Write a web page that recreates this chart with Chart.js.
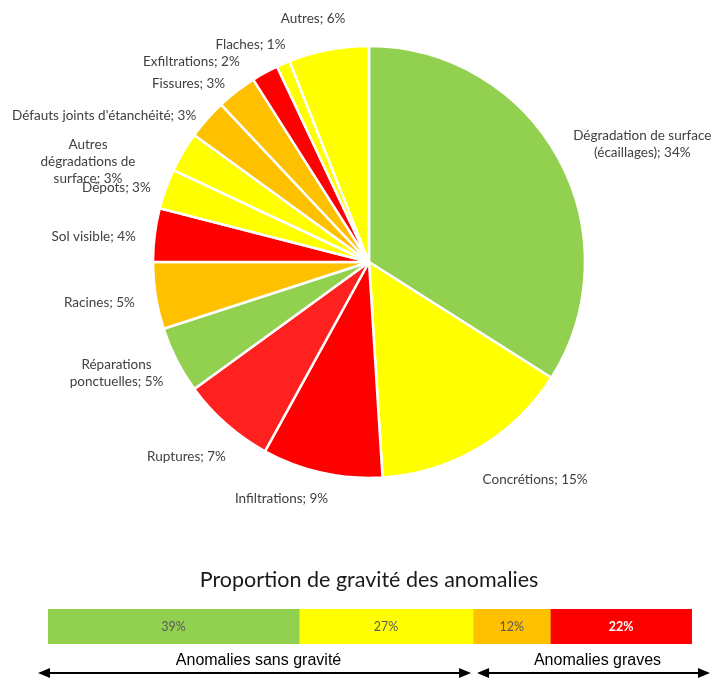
<!DOCTYPE html>
<html lang="fr">
<head>
    <meta charset="UTF-8">
    <title>Anomalies</title>
    <script src="https://cdn.jsdelivr.net/npm/chart.js"></script>
    <style>
        body { margin: 0; background: #fff; }
        canvas { display: block; }
    </style>
</head>
<body>
    <canvas id="pieChart" width="715" height="540"></canvas>
    <canvas id="barChart" width="715" height="138"></canvas>
    <script>
        // pie data, clockwise from the top
        const anomalies = [
            'Dégradation de surface\n(écaillages)', 'Concrétions', 'Infiltrations', 'Ruptures',
            'Réparations\nponctuelles', 'Racines', 'Sol visible', 'Dépots',
            'Autres\ndégradations de\nsurface', "Défauts joints d'étanchéité", 'Fissures',
            'Exfiltrations', 'Flaches', 'Autres'
        ];
        const parts = [34, 15, 9, 7, 5, 5, 4, 3, 3, 3, 3, 2, 1, 6];

        const GREEN = '#92D050', YELLOW = '#FFFF00', ORANGE = '#FFC000', RED = '#FF0000';
        const sliceColors = [GREEN, YELLOW, RED, '#FF2020', GREEN, ORANGE, RED, YELLOW,
                             YELLOW, ORANGE, ORANGE, RED, YELLOW, YELLOW];
        // small label shifts (px) to follow the original placement
        const labelNudge = [[0, 3], [-5, 10], [10, 1], [11, 13], [2, -2], [-4, 3], [-2, 5],
                            [1, 7], [-33, 31], [2, 13], [-1, 12], [-17, 11], [9, 4], [20, -6]];

        // gravity bar
        const gravityValues = [39, 27, 12, 22];
        const gravityColors = [GREEN, YELLOW, ORANGE, RED];
        const gravityTextColors = ['#595959', '#595959', '#595959', '#ffffff'];
        const groupLabels = ['Anomalies sans gravité', 'Anomalies graves'];
        const groupSplit = 2; // first two segments are "sans gravité"

        const sliceLabels = {
            id: 'sliceLabels',
            afterDatasetsDraw(chart) {
                const ctx = chart.ctx;
                const meta = chart.getDatasetMeta(0);
                ctx.save();
                ctx.font = '13.5px Lato';
                ctx.fillStyle = '#404040';
                ctx.textBaseline = 'middle';
                ctx.textAlign = 'center';
                meta.data.forEach((arc, i) => {
                    const p = arc.getProps(['x', 'y', 'startAngle', 'endAngle', 'outerRadius']);
                    const a = (p.startAngle + p.endAngle) / 2;
                    const cx = Math.cos(a), sy = Math.sin(a);
                    const lines = (anomalies[i] + '; ' + parts[i] + '%').split('\n');
                    const lh = 17;
                    const h = lines.length * lh;
                    const w = Math.max(...lines.map(l => ctx.measureText(l).width));
                    const r = p.outerRadius + 17;
                    const ax = p.x + cx * r + labelNudge[i][0];
                    const ay = p.y + sy * r + sy * h / 2 + labelNudge[i][1];
                    const mid = cx > 0.1 ? ax + w / 2 : (cx < -0.1 ? ax - w / 2 : ax);
                    lines.forEach((l, k) => {
                        ctx.fillText(l, mid, ay - h / 2 + lh / 2 + k * lh);
                    });
                });
                ctx.restore();
            }
        };

        new Chart(document.getElementById('pieChart'), {
            type: 'pie',
            data: {
                labels: anomalies,
                datasets: [{
                    data: parts,
                    backgroundColor: sliceColors,
                    borderColor: '#ffffff',
                    borderWidth: 2.5
                }]
            },
            options: {
                responsive: false,
                animation: false,
                radius: 216,
                layout: { padding: { left: 123, right: 100, top: 30, bottom: 46 } },
                plugins: { legend: { display: false }, tooltip: { enabled: false } }
            },
            plugins: [sliceLabels]
        });

        function arrow(ctx, x1, x2, y) {
            ctx.beginPath();
            ctx.moveTo(x1 + 8, y);
            ctx.lineTo(x2 - 8, y);
            ctx.stroke();
            [[x1, 1], [x2, -1]].forEach(([x, d]) => {
                ctx.beginPath();
                ctx.moveTo(x, y);
                ctx.lineTo(x + d * 12, y - 5);
                ctx.lineTo(x + d * 12, y + 5);
                ctx.closePath();
                ctx.fill();
            });
        }

        const gravityDecor = {
            id: 'gravityDecor',
            afterDatasetsDraw(chart) {
                const ctx = chart.ctx;
                const area = chart.chartArea;
                const xs = chart.scales.x;
                ctx.save();
                ctx.textAlign = 'center';
                ctx.textBaseline = 'middle';

                // title
                ctx.fillStyle = '#1a1a1a';
                ctx.font = '21.5px Lato';
                ctx.fillText('Proportion de gravité des anomalies', (area.left + area.right) / 2 - 1, 40);

                // segment values
                chart.data.datasets.forEach((ds, i) => {
                    const bar = chart.getDatasetMeta(i).data[0];
                    const p = bar.getProps(['x', 'y', 'base']);
                    ctx.fillStyle = gravityTextColors[i];
                    ctx.font = (i === 3 ? 'bold ' : '') + '12.5px Lato';
                    ctx.fillText(gravityValues[i] + '%', (p.x + p.base) / 2, p.y);
                });

                // groups with arrows
                const cut = gravityValues.slice(0, groupSplit).reduce((s, v) => s + v, 0);
                const splitX = xs.getPixelForValue(cut);
                const spans = [[area.left - 10, splitX - 2], [splitX + 4, area.right + 18]];
                ctx.fillStyle = '#000';
                ctx.strokeStyle = '#000';
                ctx.lineWidth = 2;
                spans.forEach(([a, b], i) => {
                    ctx.font = '16px "Liberation Sans"';
                    ctx.fillText(groupLabels[i], (a + b) / 2 + 4, 121);
                    arrow(ctx, a, b, 133);
                });
                ctx.restore();
            }
        };

        new Chart(document.getElementById('barChart'), {
            type: 'bar',
            data: {
                labels: ['Gravité'],
                datasets: gravityValues.map((v, i) => ({
                    data: [v],
                    backgroundColor: gravityColors[i],
                    borderWidth: 0,
                    barPercentage: 1,
                    categoryPercentage: 1
                }))
            },
            options: {
                indexAxis: 'y',
                responsive: false,
                animation: false,
                layout: { padding: { left: 48, right: 23, top: 69, bottom: 34 } },
                scales: {
                    x: { stacked: true, display: false, min: 0, max: 100 },
                    y: { stacked: true, display: false }
                },
                plugins: { legend: { display: false }, tooltip: { enabled: false } }
            },
            plugins: [gravityDecor]
        });
    </script>
</body>
</html>
